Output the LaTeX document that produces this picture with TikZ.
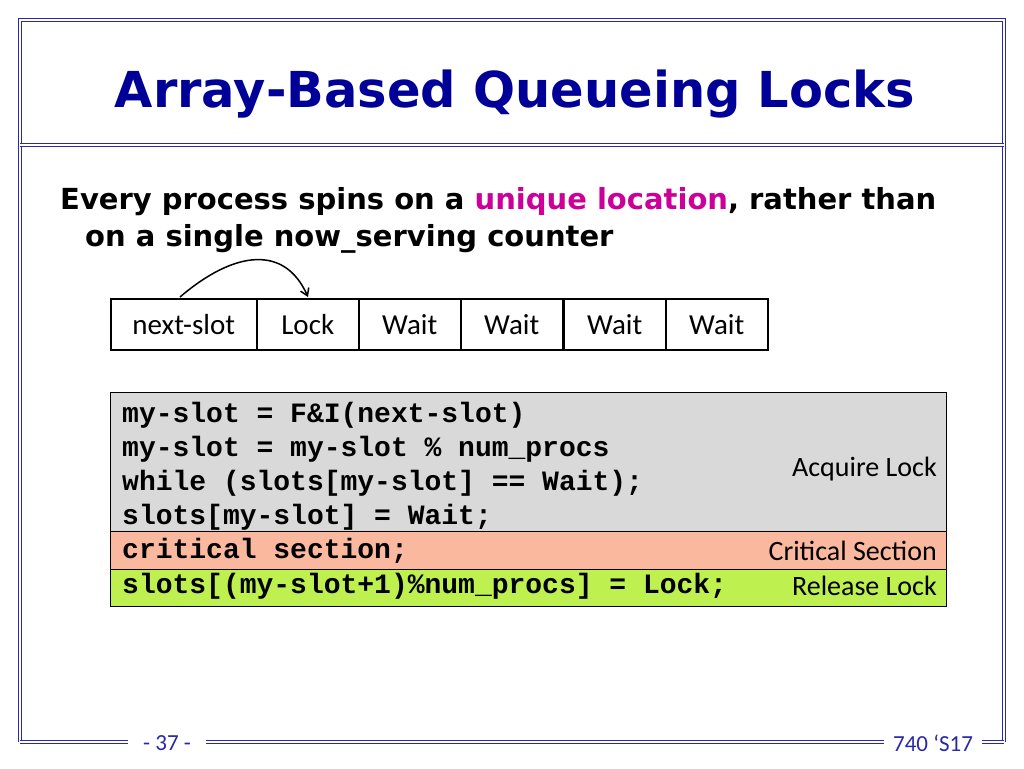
\documentclass[tikz,border=0pt]{standalone}
\usepackage{fontspec}
\setmainfont{Carlito}
\newfontfamily\ttl{DejaVu Sans}
\newfontfamily\cod{Liberation Mono}
\usetikzlibrary{arrows.meta}
\definecolor{nav}{RGB}{0,0,153}
\definecolor{frm}{RGB}{40,40,170}
\definecolor{mag}{RGB}{204,0,153}
\definecolor{gry}{RGB}{217,217,217}
\definecolor{sal}{RGB}{250,184,158}
\definecolor{grn}{RGB}{190,240,80}
\begin{document}
\begin{tikzpicture}[x=1pt,y=-1pt,
  dbl/.style={draw=frm,double=white,double distance=2pt,line width=1.2pt},
  cell/.style={draw=black,line width=1.5pt,minimum width=102pt,minimum height=51pt,anchor=north west,inner sep=0pt,font=\fontsize{29}{34}\selectfont},
  code/.style={anchor=base west,font=\cod\bfseries\fontsize{28}{30}\selectfont,inner sep=0pt},
  lab/.style={anchor=base east,font=\fontsize{28}{32}\selectfont,inner sep=0pt}]
\useasboundingbox (0,0) rectangle (1024,768);
\fill[white] (0,0) rectangle (1024,768);
% frame
\draw[dbl] (20,742) -- (20,20) -- (1004,20) -- (1004,742);
\draw[dbl] (20,145) -- (1004,145);
\draw[dbl] (20,742) -- (128,742);
\draw[dbl] (206,742) -- (884,742);
\draw[dbl] (982,742) -- (1004,742);
\node[font=\fontsize{23}{26}\selectfont,text=frm] (pg) at (167,743) {- 37 -};
\node[font=\fontsize{23}{26}\selectfont,text=frm] (cr) at (933,743) {740 `S17};
% title
\node[font=\ttl\bfseries\fontsize{49.5}{54}\selectfont,text=nav] (title) at (515,94) {Array-Based Queueing Locks};
% body text
\node[anchor=base west,inner sep=0,font=\ttl\bfseries\fontsize{29}{34}\selectfont] (l1) at (60,209) {Every process spins on a \textcolor{mag}{unique location}, rather than};
\node[anchor=base west,inner sep=0,font=\ttl\bfseries\fontsize{29}{34}\selectfont] (l2) at (85,246) {on a single now\_serving counter};
% slots
\node[cell,minimum width=146pt] (c0) at (110,298) {next-slot};
\node[cell] (c1) at (256,298) {Lock};
\node[cell] (c2) at (358,298) {Wait};
\node[cell] (c3) at (460,298) {Wait};
\node[cell] (c4) at (563,298) {Wait};
\node[cell] (c5) at (665,298) {Wait};
\coordinate (a0) at (180,297);
\coordinate (a1) at (308,297);
\draw[line width=1.5pt,-{Straight Barb[length=7pt,width=9pt]}] (a0) .. controls (235,250) and (285,245) .. (a1);
% code box
\fill[gry] (110,392) rectangle (946,531);
\fill[sal] (110,531) rectangle (946,569);
\fill[grn] (110,569) rectangle (946,606);
\draw[line width=0.8pt] (110,392) rectangle (946,606);
\draw[line width=0.8pt] (110,531) -- (946,531);
\draw[line width=0.8pt] (110,569) -- (946,569);
\node[code] (k1) at (122,422) {my-slot = F\&I(next-slot)};
\node[code] (k2) at (122,456) {my-slot = my-slot \% num\_procs};
\node[code] (k3) at (122,490) {while (slots[my-slot] == Wait);};
\node[code] (k4) at (122,524) {slots[my-slot] = Wait;};
\node[code] (k5) at (122,558) {critical section;};
\node[code] (k6) at (122,593) {slots[(my-slot+1)\%num\_procs] = Lock;};
\node[lab] (r1) at (937,476) {Acquire Lock};
\node[lab] (r2) at (937,560) {Critical Section};
\node[lab] (r3) at (937,595) {Release Lock};
\end{tikzpicture}
\end{document}
